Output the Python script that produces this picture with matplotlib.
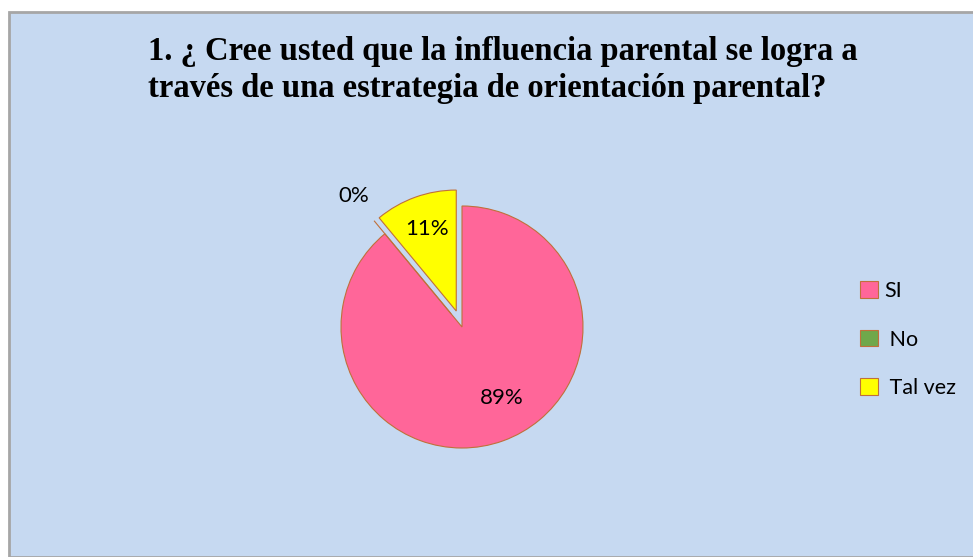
import matplotlib.pyplot as plt
from matplotlib.patches import Rectangle
import numpy as np

categories = ['SI', 'No', 'Tal vez']
legend_labels = ['SI', ' No', ' Tal vez']
values = [89, 0, 11]
colors = ['#FF6699', '#6FA84B', '#FFFF00']
explode = [0, 0.14, 0.14]

fig = plt.figure(figsize=(9.73, 5.57), dpi=100)
fig.patch.set_facecolor('white')

# chart area background with grey border
bg = Rectangle((9 / 973, 0), 1.0, 1 - 12 / 557, transform=fig.transFigure,
               facecolor='#C6D9F1', edgecolor='#A6A6A6', linewidth=2, zorder=-5)
fig.patches.append(bg)

fig.text(148 / 973, 1 - 70 / 557,
         '1. ¿ Cree usted que la influencia parental se logra a\n'
         'través de una estrategia de orientación parental?',
         family='Liberation Serif', fontweight='bold', fontsize=23.5,
         ha='left', va='center', linespacing=1.25)

# pie axes: radius 1 -> 121 px
cx, cy, R = 462, 327, 121
W = 2.5 * R
ax = fig.add_axes([(cx - W / 2) / 973, (557 - cy - W / 2) / 557, W / 973, W / 557])
ax.set_zorder(2)

wedges, texts, autotexts = ax.pie(values, colors=colors, explode=explode,
                                  startangle=90, counterclock=False,
                                  autopct=lambda p: '{:.0f}%'.format(p),
                                  pctdistance=0.72,
                                  wedgeprops=dict(edgecolor='#C0703A', linewidth=0.8),
                                  textprops=dict(family='Lato', fontsize=16, color='black'))
ax.set_xlim(-1.25, 1.25)
ax.set_ylim(-1.25, 1.25)
ax.set_aspect('equal')

# 0% label placed outside the wedge
ang = np.deg2rad(90 - 360 * values[0] / sum(values))
autotexts[1].set_position((1.4 * np.cos(ang), 1.4 * np.sin(ang)))
# 89% label a bit towards the lower right like the original
autotexts[0].set_position((0.33, -0.59))

leg = fig.legend(wedges, legend_labels, loc='center left',
                 bbox_to_anchor=(841 / 973, 1 - 339.5 / 557),
                 frameon=False, prop=dict(family='Lato', size=15.5),
                 handlelength=0.8, handleheight=0.8, handletextpad=0.3,
                 labelspacing=1.33)

plt.savefig('out.png', dpi=100)
